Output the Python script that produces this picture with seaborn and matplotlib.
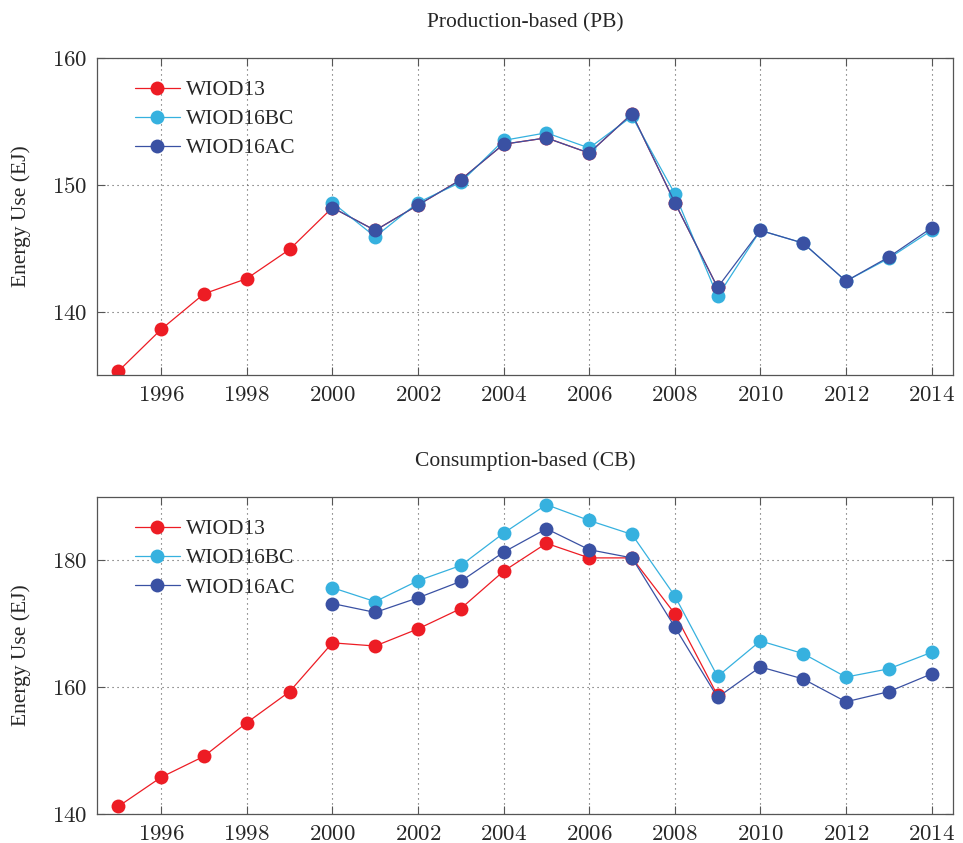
import numpy as np
import pandas as pd
import matplotlib
matplotlib.use("Agg")
import matplotlib.pyplot as plt
import seaborn as sns
from matplotlib.ticker import FuncFormatter, MultipleLocator

sns.set_theme(style="white")
plt.rcParams['font.family'] = ['Liberation Serif', 'DejaVu Serif']
plt.rcParams['mathtext.fontset'] = 'cm'

# ---------------- data ----------------
years_13 = list(range(1995, 2010))
years_16 = list(range(2000, 2015))

pb_wiod13 = [135.3, 138.6, 141.4, 142.6, 144.9, 148.2, 146.4, 148.4, 150.4, 153.2,
             153.7, 152.5, 155.6, 148.6, 141.9]
pb_wiod16bc = [148.6, 145.9, 148.6, 150.2, 153.5, 154.1, 152.9, 155.4, 149.3, 141.2,
               146.4, 145.4, 142.4, 144.2, 146.4]
pb_wiod16ac = [148.2, 146.4, 148.4, 150.4, 153.2, 153.7, 152.5, 155.6, 148.6, 141.9,
               146.4, 145.4, 142.4, 144.3, 146.6]

cb_wiod13 = [141.2, 145.8, 149.1, 154.4, 159.3, 167.0, 166.5, 169.2, 172.4, 178.3,
             182.7, 180.4, 180.4, 171.6, 158.7]
cb_wiod16bc = [175.7, 173.5, 176.8, 179.2, 184.3, 188.8, 186.3, 184.1, 174.4, 161.7,
               167.3, 165.3, 161.6, 162.9, 165.5]
cb_wiod16ac = [173.2, 171.8, 174.1, 176.7, 181.3, 185.0, 181.7, 180.4, 169.5, 158.4,
               163.2, 161.3, 157.7, 159.3, 162.1]

series_names = ["WIOD13", "WIOD16BC", "WIOD16AC"]
panel_titles = ["Production-based (PB)", "Consumption-based (CB)"]
y_label = "Energy Use (EJ)"
x_ticks = list(range(1996, 2015, 2))

colors = {"WIOD13": "#ED1C24", "WIOD16BC": "#36B1DF", "WIOD16AC": "#3A51A3"}

panels = [
    dict(title=panel_titles[0], data=[(years_13, pb_wiod13), (years_16, pb_wiod16bc), (years_16, pb_wiod16ac)],
         ylim=(135, 160), ystep=10),
    dict(title=panel_titles[1], data=[(years_13, cb_wiod13), (years_16, cb_wiod16bc), (years_16, cb_wiod16ac)],
         ylim=(140, 190), ystep=20),
]

fig = plt.figure(figsize=(9.63, 8.43), dpi=100)
ax_rects = [[0.1007, 0.5552, 0.8889, 0.3760], [0.1007, 0.0344, 0.8889, 0.3760]]

FS = 15.5
for rect, panel in zip(ax_rects, panels):
    ax = fig.add_axes(rect)
    for name, (xs, ys) in zip(series_names, panel["data"]):
        df = pd.DataFrame({"year": xs, "value": ys})
        sns.lineplot(data=df, x="year", y="value", ax=ax, color=colors[name],
                     marker="o", markersize=10, markeredgewidth=0,
                     linewidth=0.9, label=name)
    ax.set_xlim(1994.5, 2014.5)
    ax.set_ylim(*panel["ylim"])
    ax.set_xticks(x_ticks)
    ax.yaxis.set_major_locator(MultipleLocator(panel["ystep"]))
    fmt = FuncFormatter(lambda v, p: r"$%d$" % int(round(v)))
    ax.xaxis.set_major_formatter(fmt)
    ax.yaxis.set_major_formatter(fmt)
    ax.grid(True, linestyle=(0, (1, 3.5)), color="#555555", linewidth=0.8)
    ax.tick_params(direction="in", length=5.5, width=0.8, color="#555555",
                   top=True, right=True, bottom=True, left=True,
                   labelsize=FS + 1, pad=7)
    for s in ax.spines.values():
        s.set_color("#555555")
        s.set_linewidth(0.9)
    ax.set_xlabel("")
    ax.set_ylabel(y_label, fontsize=FS, labelpad=15)
    ax.set_title(panel["title"], fontsize=FS, pad=22)
    leg = ax.legend(loc="upper left", bbox_to_anchor=(0.044, 0.93), frameon=False,
                    fontsize=FS, handlelength=2.1, handletextpad=0.3,
                    labelspacing=0.42, borderpad=0, borderaxespad=0)

fig.savefig("out.png", dpi=100)
